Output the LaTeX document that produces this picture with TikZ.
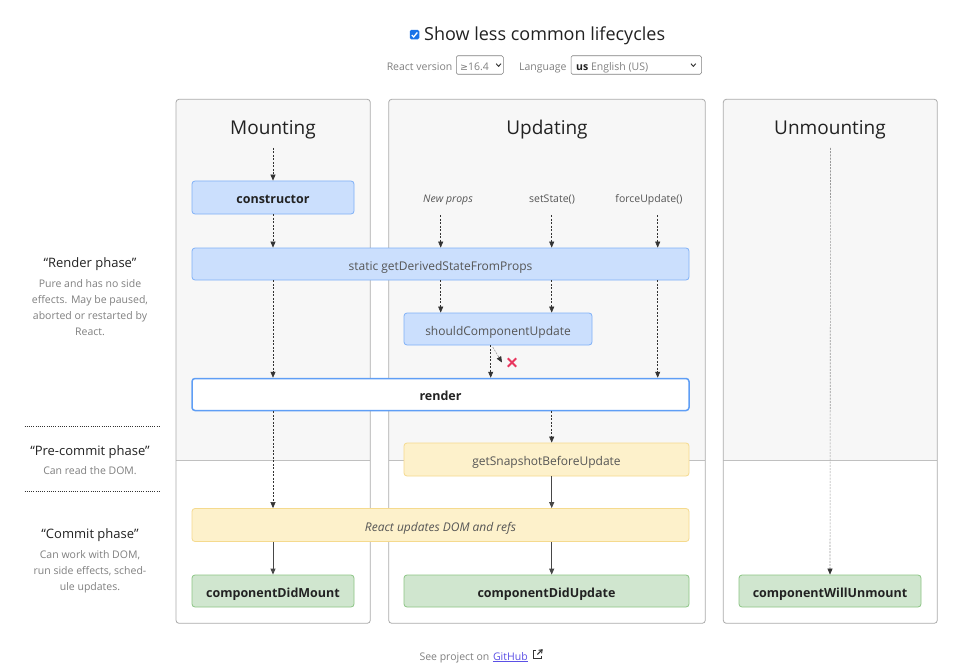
\documentclass[tikz,border=0pt]{standalone}
\usepackage{fontspec}
\setmainfont{Open Sans}
\newfontfamily\djv{DejaVu Sans}
\usetikzlibrary{arrows.meta}
\definecolor{panelgray}{HTML}{F7F7F7}
\definecolor{panelline}{HTML}{ABABAB}
\definecolor{divline}{HTML}{C0C0C0}
\definecolor{bluefill}{HTML}{CBDFFD}
\definecolor{blueline}{HTML}{7FB1F7}
\definecolor{renderline}{HTML}{5F9EF5}
\definecolor{yelfill}{HTML}{FDF1CB}
\definecolor{yelline}{HTML}{F5DA8E}
\definecolor{grnfill}{HTML}{D0E6CF}
\definecolor{grnline}{HTML}{8CC585}
\definecolor{txtdark}{HTML}{222222}
\definecolor{txtmid}{HTML}{555555}
\definecolor{txtgray}{HTML}{808080}
\definecolor{arrowc}{HTML}{333333}
\definecolor{xred}{HTML}{E8365E}
\definecolor{chkblue}{HTML}{1A73E8}
\definecolor{linkc}{HTML}{5B50E6}
\begin{document}
\begin{tikzpicture}[x=1pt,y=-1pt,
  lcbox/.style={rounded corners=3pt, line width=0.8pt, inner sep=0pt, minimum height=33pt,
     text height=12.3pt, text depth=0pt,
     font=\fontsize{12}{14}\selectfont, text=txtmid},
  bluebox/.style={lcbox, fill=bluefill, draw=blueline},
  yelbox/.style={lcbox, fill=yelfill, draw=yelline},
  grnbox/.style={lcbox, fill=grnfill, draw=grnline, font=\fontsize{12.5}{14}\selectfont\bfseries, text=txtdark},
  rendbox/.style={lcbox, fill=white, draw=renderline, line width=1.5pt, font=\fontsize{12.5}{14}\selectfont\bfseries, text=txtdark},
  heading/.style={font=\fontsize{19}{22}\selectfont, text=txtdark, inner sep=0pt, anchor=base},
  trig/.style={font=\fontsize{10.5}{12}\selectfont, text=txtmid, inner sep=0pt, anchor=base},
  phase/.style={font=\fontsize{13}{15}\selectfont, text=txtdark, inner sep=0pt, anchor=base},
  phdesc/.style={font=\fontsize{10.5}{16}\selectfont, text=txtgray, inner sep=0pt, align=center},
  dar/.style={draw=arrowc, line width=0.6pt, dash pattern=on 2pt off 1.5pt, -{Triangle[length=6pt,width=5pt]}},
  sar/.style={draw=arrowc!90, line width=1pt, -{Triangle[length=6pt,width=5pt]}},
  lar/.style={draw=black!40, line width=0.6pt, dash pattern=on 2pt off 1.2pt, -{Triangle[length=6pt,width=5pt,arrowc]}},
  dotline/.style={draw=arrowc, line width=1.3pt, dash pattern=on 1pt off 1.2pt},
  panel/.style={draw=panelline, line width=0.8pt, rounded corners=3pt},
  smalltxt/.style={font=\fontsize{10.5}{13}\selectfont, text=txtgray, inner sep=0pt}
]
\useasboundingbox (0,0) rectangle (975,666);
\fill[white] (0,0) rectangle (975,666);

% ---------- header ----------
\node[fill=chkblue, rounded corners=1.5pt, minimum size=9.5pt, inner sep=0pt] (chk) at (414.5,34.7) {};
\draw[white, line width=1.3pt] ([shift={(-2.7,0.3)}]chk.center) -- ([shift={(-0.8,2.2)}]chk.center) -- ([shift={(2.8,-2.2)}]chk.center);
\node[font=\fontsize{18}{20}\selectfont, text=txtdark, inner sep=0pt, anchor=base west] (title) at (424,40.5) {Show less common lifecycles};

\node[smalltxt, anchor=base east] (rvlab) at (452.5,70.3) {React version};
\node[draw=black!50, line width=0.6pt, rounded corners=1.5pt, minimum width=47pt, minimum height=18.5pt, inner sep=0pt] (rvsel) at (479.8,65) {};
\node[smalltxt, anchor=base west] (rvtxt) at (460,70.3) {{\djv\fontsize{9.5}{12}\selectfont ≥}16.4};
\draw[arrowc, line width=0.9pt] ([shift={(-7.5,-1.3)}]rvsel.east) -- ([shift={(-5,1.3)}]rvsel.east) -- ([shift={(-2.5,-1.3)}]rvsel.east);
\node[smalltxt, anchor=base west] (lglab) at (519,70.3) {Language};
\node[draw=black!50, line width=0.6pt, rounded corners=1.5pt, minimum width=130.5pt, minimum height=18.5pt, inner sep=0pt] (lgsel) at (636.3,65) {};
\node[smalltxt, anchor=base west] (lgtxt) at (576,70.3) {\textcolor{txtdark}{\bfseries us} English (US)};
\draw[arrowc, line width=0.9pt] ([shift={(-11,-1.3)}]lgsel.east) -- ([shift={(-8.5,1.3)}]lgsel.east) -- ([shift={(-6,-1.3)}]lgsel.east);

% ---------- panels ----------
\foreach \l/\r in {176/370.3, 388.7/705.3, 723.3/937.3} {
  \begin{scope}
    \clip[rounded corners=3pt] (\l,99.3) rectangle (\r,623.3);
    \fill[white] (\l,99.3) rectangle (\r,623.3);
    \fill[panelgray] (\l,99.3) rectangle (\r,460.5);
    \draw[divline, line width=0.8pt] (\l,460.5) -- (\r,460.5);
  \end{scope}
  \draw[panel] (\l,99.3) rectangle (\r,623.3);
}
\node[heading] (hmount) at (273,134.5) {Mounting};
\node[heading] (hupd) at (547,134.5) {Updating};
\node[heading] (hunm) at (830,134.5) {Unmounting};

% ---------- phase descriptions ----------
\node[phase] (prender) at (90,267.3) {“Render phase”};
\node[phdesc, anchor=north] (drender) at (90,279) {Pure and has no side\\effects. May be paused,\\aborted or restarted by\\React.};
\coordinate (d1l) at (24.5,426.5); \coordinate (d1r) at (159,426.5);
\draw[dotline] (d1l) -- (d1r);
\node[phase] (ppre) at (90,455) {“Pre-commit phase”};
\node[phdesc, anchor=base] (dpre) at (90,474.3) {Can read the DOM.};
\coordinate (d2l) at (24.5,491.7); \coordinate (d2r) at (159,491.7);
\draw[dotline] (d2l) -- (d2r);
\node[phase] (pcom) at (90,538.3) {“Commit phase”};
\node[phdesc, anchor=north] (dcom) at (90,550) {Can work with DOM,\\run side effects, sched-\\ule updates.};

% ---------- lifecycle boxes ----------
\node[bluebox, minimum width=162pt, font=\fontsize{12.5}{14}\selectfont\bfseries, text=txtdark] (ctor) at (273,197.5) {constructor};
\node[bluebox, minimum width=497pt, minimum height=32pt] (gdsfp) at (440.5,264) {static getDerivedStateFromProps};
\node[bluebox, minimum width=188pt, minimum height=32pt] (scu) at (498,329) {shouldComponentUpdate};
\node[rendbox, minimum width=497pt, minimum height=32pt] (render) at (440.5,394.5) {render};
\node[yelbox, minimum width=285pt] (snap) at (546.5,459.5) {getSnapshotBeforeUpdate};
\node[yelbox, minimum width=497pt, font=\fontsize{12}{14}\selectfont\itshape] (rud) at (440.5,525) {React updates DOM and refs};
\node[grnbox, minimum width=162pt, minimum height=32pt] (cdm) at (273,591) {componentDidMount};
\node[grnbox, minimum width=285pt, minimum height=32pt] (cdu) at (546.5,591) {componentDidUpdate};
\node[grnbox, minimum width=182pt, minimum height=32pt] (cwu) at (830,591) {componentWillUnmount};

% ---------- triggers ----------
\node[trig, font=\fontsize{10.5}{12}\selectfont\itshape] (np) at (448,203) {New props};
\node[trig] (ss) at (552,203) {setState()};
\node[trig] (fu) at (649,203) {forceUpdate()};

% ---------- column coordinates ----------
\coordinate (xA) at (440.7,0);
\coordinate (xB) at (551.7,0);
\coordinate (xC) at (657.7,0);
\coordinate (xD) at (490.7,0);
\coordinate (mtop) at (273,148);
\coordinate (utop) at (830.5,148);
\coordinate (npa) at (440.7,215);
\coordinate (ssa) at (551.7,215);
\coordinate (fua) at (657.7,215);

% ---------- connectors ----------
\draw[dar] (mtop) -- (ctor.north);
\draw[dar] (ctor.south) -- (ctor.south |- gdsfp.north);
\draw[dar] (ctor.south |- gdsfp.south) -- (ctor.south |- render.north);
\draw[dar] (ctor.south |- render.south) -- (ctor.south |- rud.north);
\draw[sar] (ctor.south |- rud.south) -- (cdm.north);

\draw[dar] (npa) -- (npa |- gdsfp.north);
\draw[dar] (ssa) -- (ssa |- gdsfp.north);
\draw[dar] (fua) -- (fua |- gdsfp.north);

\draw[dar] (gdsfp.south -| xA) -- (scu.north -| xA);
\draw[dar] (gdsfp.south -| xB) -- (scu.north -| xB);
\draw[dar] (gdsfp.south -| xC) -- (render.north -| xC);
\draw[dar] (scu.south -| xD) -- (render.north -| xD);
\coordinate (nostart) at (492.7,347);
\coordinate (noend) at (502,362.5);
\draw[lar] (nostart) -- (noend);
\node[inner sep=0pt, minimum size=10pt] (xmark) at (512,362.5) {};
\draw[xred, line width=2pt] (xmark.north west) ++(1,1) -- ([shift={(-1,-1)}]xmark.south east);
\draw[xred, line width=2pt] (xmark.north east) ++(-1,1) -- ([shift={(1,-1)}]xmark.south west);

\draw[dar] (render.south -| xB) -- (snap.north -| xB);
\draw[sar] (snap.south -| xB) -- (rud.north -| xB);
\draw[sar] (rud.south -| xB) -- (cdu.north -| xB);

\draw[lar] (utop) -- (cwu.north);

% ---------- footer ----------
\node[smalltxt, anchor=base west] (see) at (419.3,660) {See project on};
\node[smalltxt, text=linkc, anchor=base west] (gh) at ([xshift=3.3pt]see.base east) {GitHub};
\draw[linkc, line width=0.7pt] ([yshift=-1.3pt]gh.base west) -- ([yshift=-1.3pt]gh.base east);
\node[inner sep=0pt, minimum size=8pt] (ext) at ([xshift=9.5pt,yshift=5.5pt]gh.base east) {};
\draw[arrowc, line width=1pt] ([shift={(3,0)}]ext.north west) -- (ext.north west) -- (ext.south west) -- (ext.south east) -- ([shift={(0,-3)}]ext.south east);
\draw[arrowc, line width=1pt] (ext.center) -- ([shift={(0.5,-0.5)}]ext.north east);
\draw[arrowc, line width=1pt] ([shift={(-3,0)}]ext.north east) -- ([shift={(0.5,-0.5)}]ext.north east) -- ([shift={(0,3)}]ext.north east);
\end{tikzpicture}
\end{document}
